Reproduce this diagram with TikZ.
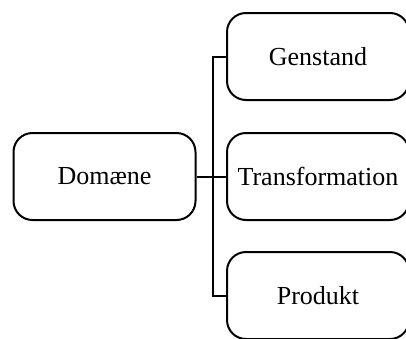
\documentclass[tikz,border=0pt]{standalone}
\usepackage{fontspec}
\setmainfont{Liberation Serif}

\begin{document}
\begin{tikzpicture}[x=1pt, y=-1pt,
    box/.style={rectangle, draw, rounded corners=19pt, line width=2pt,
                minimum width=182pt, minimum height=87pt, inner sep=0pt,
                font=\fontsize{26}{31}\selectfont},
    link/.style={line width=2pt}]
    \useasboundingbox (0,0) rectangle (406,338);
    \clip (0,0) rectangle (406,338);

    % root
    \node[box] (domaene) at (104.5,176.5) {Domæne};
    % children (cut off at the right edge)
    \node[box] (genstand)       at (318,56.5)  {Genstand};
    \node[box] (transformation) at (318,176.5) {Transformation};
    \node[box] (produkt)        at (318,295.5) {Produkt};

    % trunk
    \coordinate (trunk) at (213,176.5);
    \draw[link] (domaene) -- (transformation);
    \draw[link] (genstand.west) -| (trunk) |- (produkt.west);
\end{tikzpicture}
\end{document}
